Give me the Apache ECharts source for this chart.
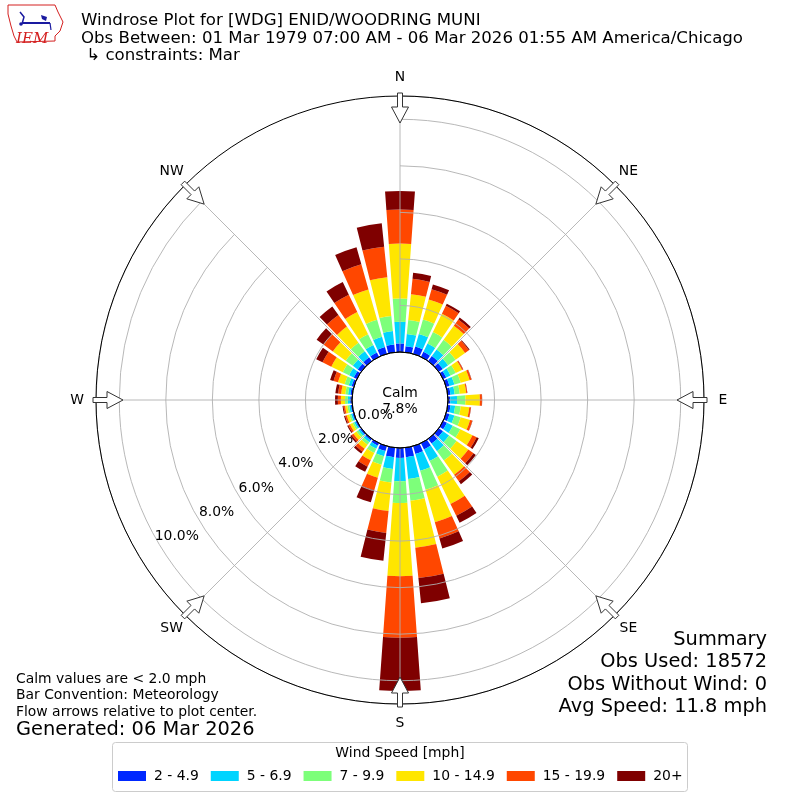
<!DOCTYPE html>
<html>
<head>
<meta charset="utf-8">
<script src="https://cdn.jsdelivr.net/npm/echarts@6/dist/echarts.min.js"></script>
<style>
html,body{margin:0;padding:0;background:#fff;}
#chart{width:800px;height:800px;}
</style>
</head>
<body>
<div id="chart"></div>
<script>
// ---- Data ----
const directions = ['0','10','20','30','40','50','60','70','80','90','100','110','120','130','140','150','160','170',
                    '180','190','200','210','220','230','240','250','260','270','280','290','300','310','320','330','340','350'];
const speedBins = ['2 - 4.9','5 - 6.9','7 - 9.9','10 - 14.9','15 - 19.9','20+'];
const binColors = ['#0028ff','#00d4ff','#7dff7a','#ffe600','#ff4700','#7f0000'];
// percent frequency per direction bin (N, 10, 20 ... 350)
const spd2 =  [0.37,0.26,0.33,0.24,0.27,0.21,0.15,0.15,0.12,0.10,0.12,0.15,0.18,0.22,0.25,0.30,0.35,0.41,
               0.43,0.41,0.22,0.12,0.08,0.07,0.06,0.06,0.06,0.08,0.08,0.10,0.15,0.18,0.20,0.21,0.30,0.34];
const spd5 =  [0.93,0.53,0.56,0.40,0.35,0.28,0.20,0.22,0.18,0.29,0.20,0.22,0.28,0.32,0.40,0.55,0.75,0.94,
               1.00,0.51,0.23,0.15,0.10,0.08,0.07,0.07,0.07,0.10,0.10,0.13,0.22,0.26,0.32,0.36,0.46,0.58];
const spd7 =  [1.00,0.60,0.64,0.54,0.51,0.40,0.25,0.28,0.22,0.36,0.24,0.28,0.36,0.40,0.50,0.75,0.85,0.94,
               0.93,0.58,0.38,0.20,0.13,0.10,0.08,0.08,0.08,0.12,0.12,0.18,0.30,0.38,0.46,0.51,0.76,0.65];
const spd10 = [2.36,1.12,0.90,0.88,0.75,0.50,0.30,0.40,0.28,0.62,0.37,0.42,0.58,0.62,0.75,1.30,1.45,2.03,
               3.15,1.23,0.58,0.35,0.22,0.16,0.12,0.11,0.10,0.18,0.18,0.30,0.55,0.68,0.85,1.06,1.36,1.67];
const spd15 = [1.46,0.66,0.46,0.38,0.33,0.20,0.05,0.08,0.04,0.09,0.07,0.10,0.20,0.28,0.35,0.57,0.72,1.31,
               2.64,0.95,0.56,0.30,0.15,0.10,0.08,0.07,0.07,0.13,0.13,0.20,0.42,0.50,0.62,0.83,1.12,1.32];
const spd20 = [0.80,0.26,0.21,0.10,0.10,0.04,0.01,0.01,0.01,0.01,0.01,0.01,0.10,0.12,0.15,0.33,0.45,1.09,
               2.29,1.20,0.54,0.25,0.10,0.07,0.05,0.05,0.04,0.12,0.12,0.15,0.30,0.36,0.45,0.60,0.76,1.01];
const compassLabels = ['N','NE','E','SE','S','SW','W','NW'];
const radialTicks = [0,2,4,6,8,10];
const radialMax = 11;
const calmPct = 7.8;
const titleLines = ['Windrose Plot for [WDG] ENID/WOODRING MUNI',
  'Obs Between: 01 Mar 1979 07:00 AM - 06 Mar 2026 01:55 AM America/Chicago',
  ' \u21b3 constraints: Mar'];
const noteLines = ['Calm values are < 2.0 mph','Bar Convention: Meteorology','Flow arrows relative to plot center.'];
const generated = 'Generated: 06 Mar 2026';
const summaryLines = ['Summary','Obs Used: 18572','Obs Without Wind: 0','Avg Speed: 11.8 mph'];

// ---- Layout ----
const FONT = 'DejaVu Sans';
const CX = 400, CY = 400, R0 = 48, R1 = 304;
const seriesData = [spd2, spd5, spd7, spd10, spd15, spd20];

const chart = echarts.init(document.getElementById('chart'), null, {renderer:'canvas'});

const graphics = [];
// calm circle (outline only so the 0.0% label stays visible)
graphics.push({type:'circle', shape:{cx:CX, cy:CY, r:R0}, style:{fill:null, stroke:'#000', lineWidth:1}, z:100});
graphics.push({type:'text', x:CX, y:CY+1, style:{text:'Calm\n' + calmPct.toFixed(1) + '%', font:'13.9px "DejaVu Sans"', fill:'#000', textAlign:'center', textVerticalAlign:'middle', lineHeight:16}, z:101});
// flow arrows
for (let i = 0; i < 8; i++) {
  const a = i * 45 * Math.PI / 180;
  const ux = Math.sin(a), uy = -Math.cos(a);
  const px = Math.cos(a), py = Math.sin(a);
  const P = (r, w) => [CX + ux*r + px*w, CY + uy*r + py*w];
  const pts = [P(307,2.5), P(293,2.5), P(293,8.5), P(277,0), P(293,-8.5), P(293,-2.5), P(307,-2.5)];
  graphics.push({type:'polygon', shape:{points:pts}, style:{fill:'#fff', stroke:'#333', lineWidth:1}, z:102});
}
// title
titleLines.forEach((t, i) => {
  graphics.push({type:'text', x:81, y:21 + i*17.5, style:{text:t, font:'16.6px "DejaVu Sans"', fill:'#000', textVerticalAlign:'middle'}, z:100});
});
// notes
noteLines.forEach((t, i) => {
  graphics.push({type:'text', x:16, y:679 + i*16.7, style:{text:t, font:'13.9px "DejaVu Sans"', fill:'#000', textVerticalAlign:'middle'}, z:100});
});
graphics.push({type:'text', x:16, y:730, style:{text:generated, font:'19.4px "DejaVu Sans"', fill:'#000', textVerticalAlign:'middle'}, z:100});
// summary
summaryLines.forEach((t, i) => {
  graphics.push({type:'text', x:767, y:640 + i*22.3, style:{text:t, font:'19.4px "DejaVu Sans"', fill:'#000', textAlign:'right', textVerticalAlign:'middle'}, z:100});
});
// legend frame + title
graphics.push({type:'rect', shape:{x:112.5, y:742.5, width:575, height:49, r:3}, style:{fill:'#fff', stroke:'#cccccc', lineWidth:1}, z:-1});
graphics.push({type:'text', x:400, y:753, style:{text:'Wind Speed [mph]', font:'13.9px "DejaVu Sans"', fill:'#000', textAlign:'center', textVerticalAlign:'middle'}, z:100});
// IEM logo (approximation)
graphics.push({type:'polyline', shape:{points:[[8,5],[55,5],[58,12],[63,22],[60,31],[55,36],[55,41],[17,42],[14,36],[11,26],[8,14],[8,5]]}, style:{stroke:'#d42020', lineWidth:1, fill:null}, z:100});
graphics.push({type:'polyline', shape:{points:[[23,23],[50,23]]}, style:{stroke:'#1a1aa0', lineWidth:2}, z:100});
graphics.push({type:'polyline', shape:{points:[[20,12],[24,17],[22,24]]}, style:{stroke:'#1a1aa0', lineWidth:1.5, fill:null}, z:100});
graphics.push({type:'polygon', shape:{points:[[41,15],[47,17],[46,21],[42,19]]}, style:{fill:'#1a1aa0'}, z:100});
graphics.push({type:'circle', shape:{cx:21, cy:24, r:1.8}, style:{fill:'#1a1aa0'}, z:100});
graphics.push({type:'polyline', shape:{points:[[50,23],[51,30]]}, style:{stroke:'#1a1aa0', lineWidth:1.2}, z:100});
graphics.push({type:'text', x:16, y:39, style:{text:'IEM', font:'italic 15px "DejaVu Serif"', fill:'#d42020', textVerticalAlign:'middle'}, z:100});

const labelSeries = (polarIndex, data) => ({
  type: 'scatter', coordinateSystem: 'polar', polarIndex: polarIndex, silent: true,
  symbol: 'circle', symbolSize: 2, itemStyle: {color: 'rgba(255,255,255,0)'}, z: 20, data: data,
  label: {show: true, position: 'inside', opacity: 1, formatter: p => p.name, fontSize: 13.9, color: '#000', fontFamily: FONT}
});

const option = {
  animation: false,
  backgroundColor: '#fff',
  textStyle: {fontFamily: FONT},
  polar: [
    {center:[CX, CY], radius:[R0, R1]},
    {center:[CX, CY], radius:[R0, R1]},
    {center:[CX, CY], radius:[R0 - 19, R1 - 19]},
    {center:[CX, CY], radius:[0, 323]}
  ],
  angleAxis: [
    {polarIndex:0, type:'category', data:directions, startAngle:95, clockwise:true,
     axisLine:{show:false}, axisTick:{show:false}, axisLabel:{show:false}, splitLine:{show:false}},
    {polarIndex:1, type:'category', data:compassLabels, boundaryGap:false, startAngle:90, clockwise:true, z:5,
     axisLine:{show:true, lineStyle:{color:'#000', width:1}}, axisTick:{show:false}, axisLabel:{show:false},
     splitLine:{show:true, lineStyle:{color:'#b0b0b0', width:0.9}}},
    {polarIndex:2, type:'value', min:0, max:360, startAngle:211.5, axisLine:{show:false}, axisTick:{show:false}, axisLabel:{show:false}, splitLine:{show:false}},
    {polarIndex:3, type:'category', data:compassLabels, boundaryGap:false, startAngle:90, clockwise:true,
     axisLine:{show:false}, axisTick:{show:false}, axisLabel:{show:false}, splitLine:{show:false}}
  ],
  radiusAxis: [
    {polarIndex:0, type:'value', min:0, max:radialMax, axisLine:{show:false}, axisTick:{show:false}, axisLabel:{show:false}, splitLine:{show:false}},
    {polarIndex:1, type:'value', min:0, max:radialMax, interval:2, z:5, axisLine:{show:false}, axisTick:{show:false}, axisLabel:{show:false},
     splitLine:{show:true, lineStyle:{color:'#b0b0b0', width:0.9}}},
    {polarIndex:2, type:'value', min:0, max:radialMax, axisLine:{show:false}, axisTick:{show:false}, axisLabel:{show:false}, splitLine:{show:false}},
    {polarIndex:3, type:'value', min:0, max:1, axisLine:{show:false}, axisTick:{show:false}, axisLabel:{show:false}, splitLine:{show:false}}
  ],
  legend: {
    data: speedBins, left: 113, top: 764, itemWidth: 28, itemHeight: 10, itemGap: 12,
    icon: 'rect', textStyle: {fontSize: 13.9, color: '#000', fontFamily: FONT, padding:[0,0,0,3]}
  },
  series: speedBins.map((name, i) => ({
    name: name, type: 'bar', coordinateSystem: 'polar', polarIndex: 0, stack: 'wind',
    data: seriesData[i], barCategoryGap: '18%', itemStyle: {color: binColors[i]}, z: 2
  })).concat([
    labelSeries(2, radialTicks.map(v => ({value: [v, 0], name: v.toFixed(1) + '%'}))),
    labelSeries(3, compassLabels.map((l, i) => ({value: [1, i], name: l})))
  ]),
  graphic: graphics
};
chart.setOption(option);
</script>
</body>
</html>
